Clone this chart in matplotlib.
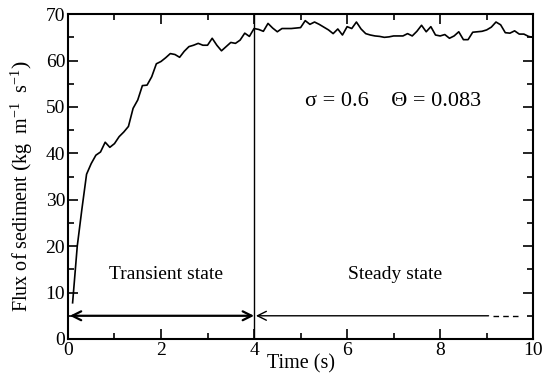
import matplotlib
matplotlib.use('Agg')
import matplotlib.pyplot as plt
import numpy as np

plt.rcParams['font.family'] = ['Liberation Serif', 'DejaVu Serif']
plt.rcParams['mathtext.fontset'] = 'custom'
plt.rcParams['mathtext.rm'] = 'Liberation Serif'
plt.rcParams['mathtext.it'] = 'Liberation Serif:italic'

# time (s) and sediment flux
time = [0.1, 0.2, 0.3, 0.4, 0.5, 0.6, 0.7, 0.8, 0.9, 1.0,
        1.1, 1.2, 1.3, 1.4, 1.5, 1.6, 1.7, 1.8, 1.9, 2.0,
        2.1, 2.2, 2.3, 2.4, 2.5, 2.6, 2.7, 2.8, 2.9, 3.0,
        3.1, 3.2, 3.3, 3.4, 3.5, 3.6, 3.7, 3.8, 3.9, 4.0,
        4.1, 4.2, 4.3, 4.4, 4.5, 4.6, 4.7, 4.8, 4.9, 5.0,
        5.1, 5.2, 5.3, 5.4, 5.5, 5.6, 5.7, 5.8, 5.9, 6.0,
        6.1, 6.2, 6.3, 6.4, 6.5, 6.6, 6.7, 6.8, 6.9, 7.0,
        7.1, 7.2, 7.3, 7.4, 7.5, 7.6, 7.7, 7.8, 7.9, 8.0,
        8.1, 8.2, 8.3, 8.4, 8.5, 8.6, 8.7, 8.8, 8.9, 9.0,
        9.1, 9.2, 9.3, 9.4, 9.5, 9.6, 9.7, 9.8, 9.9, 10.0]
flux = [7.8, 20.0, 28.0, 35.5, 37.8, 39.6, 40.3, 42.4, 41.3, 42.1,
        43.6, 44.6, 45.8, 49.7, 51.5, 54.6, 54.7, 56.5, 59.3, 59.8,
        60.6, 61.5, 61.3, 60.7, 62.0, 63.0, 63.3, 63.7, 63.3, 63.3,
        64.8, 63.3, 62.1, 63.0, 63.9, 63.7, 64.4, 65.9, 65.2, 66.9,
        66.7, 66.3, 68.0, 67.0, 66.2, 66.9, 66.9, 66.9, 67.0, 67.1,
        68.6, 67.8, 68.3, 67.8, 67.2, 66.6, 65.8, 66.8, 65.5, 67.3,
        66.9, 68.3, 66.8, 65.8, 65.5, 65.3, 65.2, 65.0, 65.1, 65.3,
        65.3, 65.3, 65.8, 65.3, 66.3, 67.6, 66.2, 67.3, 65.5, 65.3,
        65.6, 64.8, 65.3, 66.2, 64.5, 64.5, 66.1, 66.2, 66.3, 66.6,
        67.2, 68.3, 67.7, 66.0, 65.9, 66.4, 65.7, 65.7, 65.2, 65.0]

t_split = 4.0
arrow_y = 5.0

fig = plt.figure(figsize=(5.48, 3.82), dpi=100)
ax = fig.add_axes([0.124, 0.1126, 0.849, 0.8504])

ax.plot(time, flux, color='black', lw=1.2)
ax.axvline(t_split, color='black', lw=1.0)

# transient state arrow
ax.annotate('', xy=(0.04, arrow_y), xytext=(t_split, arrow_y),
            arrowprops=dict(arrowstyle='<->', color='black', lw=1.6,
                            mutation_scale=16, shrinkA=0, shrinkB=0))
# steady state arrow (solid part + dashed continuation)
ax.annotate('', xy=(4.04, arrow_y), xytext=(9.04, arrow_y),
            arrowprops=dict(arrowstyle='->', color='black', lw=1.0,
                            mutation_scale=16, shrinkA=0, shrinkB=0))
ax.plot([9.14, 9.72], [arrow_y, arrow_y], color='black', lw=1.0,
        linestyle=(0, (4, 3)))

ax.text(2.1, 13.8, 'Transient state', ha='center', va='center', fontsize=14)
ax.text(7.03, 13.8, 'Steady state', ha='center', va='center', fontsize=14)
ax.text(6.98, 51.2, 'σ = 0.6    Θ = 0.083', ha='center', va='center', fontsize=16)

ax.set_xlim(0, 10)
ax.set_ylim(0, 70)
ax.set_xticks(np.arange(0, 11, 2))
ax.set_xticks(np.arange(0, 11, 1), minor=True)
ax.set_yticks(np.arange(0, 71, 10))
ax.set_yticks(np.arange(0, 71, 5), minor=True)
ax.tick_params(which='both', direction='in', top=True, right=True,
               labelsize=14, width=1.2, pad=2)
ax.tick_params(which='major', length=7)
ax.tick_params(which='minor', length=4)
for s in ax.spines.values():
    s.set_linewidth(1.5)

ax.set_xlabel('Time (s)', fontsize=14.5, labelpad=-3)
ax.set_ylabel(r'Flux of sediment $\left(\mathrm{kg\ \ m^{-1}\ \ s^{-1}}\right)$',
              fontsize=14.5)
ax.yaxis.set_label_coords(-0.07, 0.47)

fig.savefig('out.png', dpi=100)
